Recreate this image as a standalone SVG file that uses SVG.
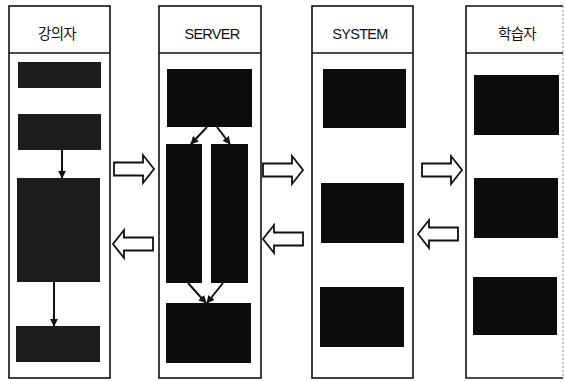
<svg xmlns="http://www.w3.org/2000/svg" width="565" height="382" viewBox="0 0 565 382">
  <defs>
    <style>
      .lane { fill: #fff; stroke: #111; stroke-width: 1.6; }
      .divider { stroke: #111; stroke-width: 1.6; }
      .title { font-family: "Liberation Sans", "Noto Sans CJK KR", sans-serif; font-size: 14.5px; fill: #111; text-anchor: middle; letter-spacing: -0.7px; }
      .blk { fill: #0c0c0c; }
      .grain { fill: #1c1c1c; }
      .flow { stroke: #111; stroke-width: 2; fill: none; }
      .big { fill: #fff; stroke: #111; stroke-width: 1.8; stroke-linejoin: miter; }
    </style>
    <marker id="head" viewBox="0 0 10 10" refX="9" refY="5" markerWidth="4" markerHeight="4" orient="auto">
      <path d="M0,0 L10,5 L0,10 Z" fill="#111"/>
    </marker>
    <!-- hollow block arrow pointing right, 40 wide -->
    <path id="rarrow" d="M0,-6.5 H29 V-14 L40,0 L29,14 V6.5 H0 Z"/>
    <!-- hollow block arrow pointing left, 40 wide -->
    <path id="larrow" d="M40,-6.5 H11 V-14 L0,0 L11,14 V6.5 H40 Z"/>
  </defs>

  <rect width="565" height="382" fill="#fff"/>

  <!-- lane: instructor -->
  <g id="lane-instructor">
    <rect class="lane" x="9" y="6" width="101" height="372"/>
    <line class="divider" x1="9" y1="53" x2="110" y2="53"/>
    <text class="title" x="57" y="39">강의자</text>
    <rect class="grain" x="18" y="62" width="83" height="26"/>
    <rect class="grain" x="18" y="114" width="83" height="36"/>
    <rect class="grain" x="17" y="178" width="83" height="104"/>
    <rect class="grain" x="16" y="326" width="84" height="36"/>
  </g>

  <!-- lane: server -->
  <g id="lane-server">
    <rect class="lane" x="159" y="6" width="102" height="372"/>
    <line class="divider" x1="159" y1="53" x2="261" y2="53"/>
    <text class="title" x="212" y="39">SERVER</text>
    <rect class="blk" x="167" y="69" width="85" height="58"/>
    <rect class="blk" x="166" y="144" width="36" height="139"/>
    <rect class="blk" x="211" y="144" width="37" height="139"/>
    <rect class="blk" x="166" y="303" width="85" height="60"/>
  </g>

  <!-- lane: system -->
  <g id="lane-system">
    <rect class="lane" x="312" y="6" width="101" height="372"/>
    <line class="divider" x1="312" y1="53" x2="413" y2="53"/>
    <text class="title" x="360" y="39">SYSTEM</text>
    <rect class="blk" x="323" y="69" width="83" height="59"/>
    <rect class="blk" x="321" y="183" width="83" height="60"/>
    <rect class="blk" x="320" y="287" width="84" height="60"/>
  </g>

  <!-- lane: learner (right edge is faint, cut at the page margin) -->
  <g id="lane-learner">
    <path d="M563,6 H466 V378 H563" fill="#fff" stroke="#111" stroke-width="1.6"/>
    <line x1="563" y1="6" x2="563" y2="378" stroke="#999" stroke-width="1" stroke-dasharray="2 2"/>
    <line class="divider" x1="466" y1="53" x2="563" y2="53"/>
    <text class="title" x="517" y="39">학습자</text>
    <rect class="blk" x="474" y="75" width="85" height="60"/>
    <rect class="blk" x="474" y="178" width="84" height="60"/>
    <rect class="blk" x="473" y="277" width="84" height="58"/>
  </g>

  <!-- connectors -->
  <g id="connectors">
    <line class="flow" x1="62" y1="150" x2="62" y2="178" marker-end="url(#head)"/>
    <line class="flow" x1="54" y1="282" x2="54" y2="326" marker-end="url(#head)"/>

    <line class="flow" x1="207" y1="127" x2="191" y2="144" marker-end="url(#head)"/>
    <line class="flow" x1="217" y1="127" x2="230" y2="144" marker-end="url(#head)"/>
    <line class="flow" x1="188" y1="283" x2="206" y2="303" marker-end="url(#head)"/>
    <line class="flow" x1="223" y1="283" x2="207" y2="303" marker-end="url(#head)"/>

    <use href="#rarrow" class="big" x="114" y="169"/>
    <use href="#larrow" class="big" x="113" y="244"/>
    <use href="#rarrow" class="big" x="263" y="170"/>
    <use href="#larrow" class="big" x="263" y="239"/>
    <use href="#rarrow" class="big" x="422" y="170"/>
    <use href="#larrow" class="big" x="418" y="234"/>
  </g>
</svg>
